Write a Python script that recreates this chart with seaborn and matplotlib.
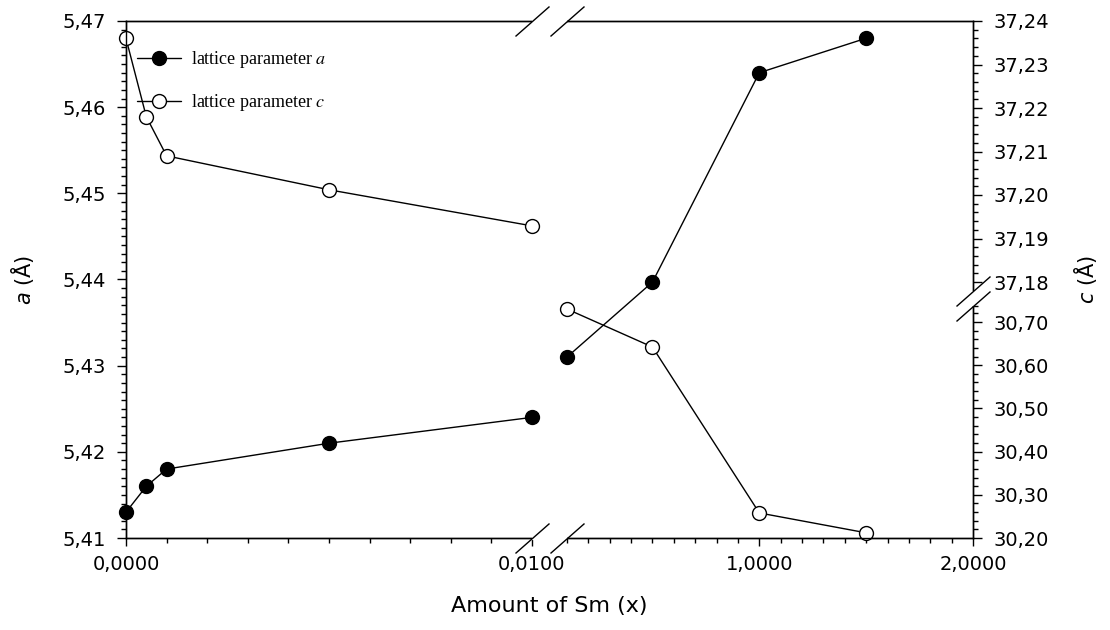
import numpy as np
import pandas as pd
import matplotlib
matplotlib.use("Agg")
import matplotlib.pyplot as plt
import matplotlib.transforms as mtransforms
import seaborn as sns

# ---------------- data ----------------
sm_amount = [0.0, 0.0005, 0.001, 0.005, 0.01, 0.1, 0.5, 1.0, 1.5]
segment = ["low", "low", "low", "low", "low", "high", "high", "high", "high"]
lattice_a = [5.413, 5.416, 5.418, 5.421, 5.424, 5.431, 5.4397, 5.464, 5.468]
lattice_c = [37.236, 37.218, 37.209, 37.2012, 37.1929, 30.730, 30.642, 30.258, 30.212]

x_ticks = [0.0, 0.01, 1.0, 2.0]
x_tick_labels = ["0,0000", "0,0100", "1,0000", "2,0000"]
a_ticks = [5.41, 5.42, 5.43, 5.44, 5.45, 5.46, 5.47]
a_tick_labels = ["5,41", "5,42", "5,43", "5,44", "5,45", "5,46", "5,47"]
c_ticks = [30.20, 30.30, 30.40, 30.50, 30.60, 30.70,
           37.18, 37.19, 37.20, 37.21, 37.22, 37.23, 37.24]
c_tick_labels = ["30,20", "30,30", "30,40", "30,50", "30,60", "30,70",
                 "37,18", "37,19", "37,20", "37,21", "37,22", "37,23", "37,24"]

df = pd.DataFrame({"x": sm_amount, "seg": segment, "a": lattice_a, "c": lattice_c})

# ---------------- broken scales ----------------
X_LO_END, X_HI_START, X_MAX = 0.01, 0.1, 2.0
PX_LO, PX_GAP, PX_HI = 406.0, 35.0, 406.0

def x_fwd(x):
    x = np.asarray(x, dtype=float)
    return np.where(x <= X_LO_END, x / X_LO_END * PX_LO,
           np.where(x < X_HI_START, PX_LO + (x - X_LO_END) / (X_HI_START - X_LO_END) * PX_GAP,
                    PX_LO + PX_GAP + (x - X_HI_START) / (X_MAX - X_HI_START) * PX_HI))

def x_inv(v):
    v = np.asarray(v, dtype=float)
    return np.where(v <= PX_LO, v / PX_LO * X_LO_END,
           np.where(v < PX_LO + PX_GAP, X_LO_END + (v - PX_LO) / PX_GAP * (X_HI_START - X_LO_END),
                    X_HI_START + (v - PX_LO - PX_GAP) / PX_HI * (X_MAX - X_HI_START)))

C_LO_END, C_HI_START = 30.737, 37.178
K_LO, K_HI, V_TOP = 432.0, 4350.0, 517.0
V_LO_END = (C_LO_END - 30.20) * K_LO
V_HI_START = V_TOP - (37.24 - C_HI_START) * K_HI

def c_fwd(c):
    c = np.asarray(c, dtype=float)
    return np.where(c <= C_LO_END, (c - 30.20) * K_LO,
           np.where(c < C_HI_START,
                    V_LO_END + (c - C_LO_END) / (C_HI_START - C_LO_END) * (V_HI_START - V_LO_END),
                    V_TOP - (37.24 - c) * K_HI))

def c_inv(v):
    v = np.asarray(v, dtype=float)
    return np.where(v <= V_LO_END, 30.20 + v / K_LO,
           np.where(v < V_HI_START,
                    C_LO_END + (v - V_LO_END) / (V_HI_START - V_LO_END) * (C_HI_START - C_LO_END),
                    37.24 - (V_TOP - v) / K_HI))

# ---------------- style ----------------
sns.set_style("ticks")
plt.rcParams["font.family"] = ["DejaVu Sans"]
plt.rcParams["mathtext.fontset"] = "dejavusans"
plt.rcParams["axes.edgecolor"] = "black"
plt.rcParams["axes.linewidth"] = 1.0
plt.rcParams["xtick.color"] = "black"
plt.rcParams["ytick.color"] = "black"
plt.rcParams["text.color"] = "black"
plt.rcParams["axes.labelcolor"] = "black"
plt.rcParams["xtick.labelcolor"] = "black"
plt.rcParams["ytick.labelcolor"] = "black"

fig = plt.figure(figsize=(11.1, 6.3), dpi=100)
ax = fig.add_axes([126 / 1110, 1 - 538 / 630, 847 / 1110, 517 / 630])
ax.set_facecolor("white")
ax2 = ax.twinx()

ax.set_xscale("function", functions=(x_fwd, x_inv))
ax2.set_yscale("function", functions=(c_fwd, c_inv))

line_kw = dict(color="black", linewidth=1.0, marker="o", markersize=10,
               markeredgecolor="black", markeredgewidth=1.0, clip_on=False)

for i, seg in enumerate(["low", "high"]):
    sub = df[df["seg"] == seg]
    sns.lineplot(data=sub, x="x", y="a", ax=ax, markerfacecolor="black",
                 label="lattice parameter $a$" if i == 0 else None, legend=False, **line_kw)
    sns.lineplot(data=sub, x="x", y="c", ax=ax2, markerfacecolor="white",
                 label="lattice parameter $c$" if i == 0 else None, legend=False, **line_kw)

ax.set_xlim(0.0, X_MAX)
ax.set_ylim(5.41, 5.47)
ax2.set_ylim(30.20, 37.24)

ax.set_xticks(x_ticks)
ax.set_xticklabels(x_tick_labels)
ax.set_xticks(list(np.arange(1, 10) * 0.001) + [v / 10 for v in range(1, 20) if v != 10], minor=True)
ax.set_yticks(a_ticks)
ax.set_yticklabels(a_tick_labels)
ax.set_yticks(np.round(np.arange(5.41, 5.4705, 0.001), 3), minor=True)
ax2.set_yticks(c_ticks)
ax2.set_yticklabels(c_tick_labels)
ax2.set_yticks(list(np.round(np.arange(30.20, 30.741, 0.02), 2)) +
               list(np.round(np.arange(37.18, 37.2405, 0.002), 3)), minor=True)

for a_ in (ax, ax2):
    a_.tick_params(which="major", direction="out", length=6.5, width=1, labelsize=14, pad=8)
    a_.tick_params(which="minor", direction="out", length=3.8, width=1)
ax.tick_params(axis="x", which="major", length=6, pad=6)
ax.tick_params(axis="x", which="minor", length=3.3)
ax.tick_params(top=False, right=False, which="both")
ax2.tick_params(axis="y", left=False, right=True, which="both")

ax.set_xlabel("Amount of Sm (x)", fontsize=16, labelpad=16)
ax.set_ylabel("$a$ (Å)", fontsize=15, labelpad=19)
ax2.set_ylabel("$c$ (Å)", fontsize=15, labelpad=17)

for a_ in (ax, ax2):
    for s in a_.spines.values():
        s.set_color("black")
        s.set_linewidth(1.0)

# ---------------- break marks ----------------
tx = mtransforms.blended_transform_factory(ax.transData, ax.transAxes)
ty = mtransforms.blended_transform_factory(ax2.transAxes, ax2.transData)
slash = [(-1.0, -0.88), (1.0, 0.88)]
for yy in (0.0, 1.0):
    ax2.plot([X_LO_END, X_HI_START], [yy, yy], transform=tx, color="white",
             linewidth=3, clip_on=False, zorder=5, solid_capstyle="butt")
    ax2.plot([X_LO_END, X_HI_START], [yy, yy], transform=tx, linestyle="none",
             marker=slash, markersize=24.5, markeredgewidth=1.0, color="black",
             clip_on=False, zorder=6)
ax2.plot([1.0, 1.0], [C_LO_END, C_HI_START], transform=ty, color="white",
         linewidth=3, clip_on=False, zorder=5, solid_capstyle="butt")
ax2.plot([1.0, 1.0], [C_LO_END, C_HI_START], transform=ty, linestyle="none",
         marker=slash, markersize=24.5, markeredgewidth=1.0, color="black",
         clip_on=False, zorder=6)

# ---------------- legend ----------------
h1, l1 = ax.get_legend_handles_labels()
h2, l2 = ax2.get_legend_handles_labels()
leg = ax2.legend(h1 + h2, l1 + l2, loc="upper left", bbox_to_anchor=(0.013, 0.946),
                 frameon=False, prop={"family": "Liberation Serif", "size": 13},
                 handlelength=2.44, handletextpad=0.55, labelspacing=1.22,
                 borderpad=0, borderaxespad=0, numpoints=1)
for t in leg.get_texts():
    t.set_math_fontfamily("stix")
    t.set_color("black")

fig.savefig("out.png", dpi=100)
